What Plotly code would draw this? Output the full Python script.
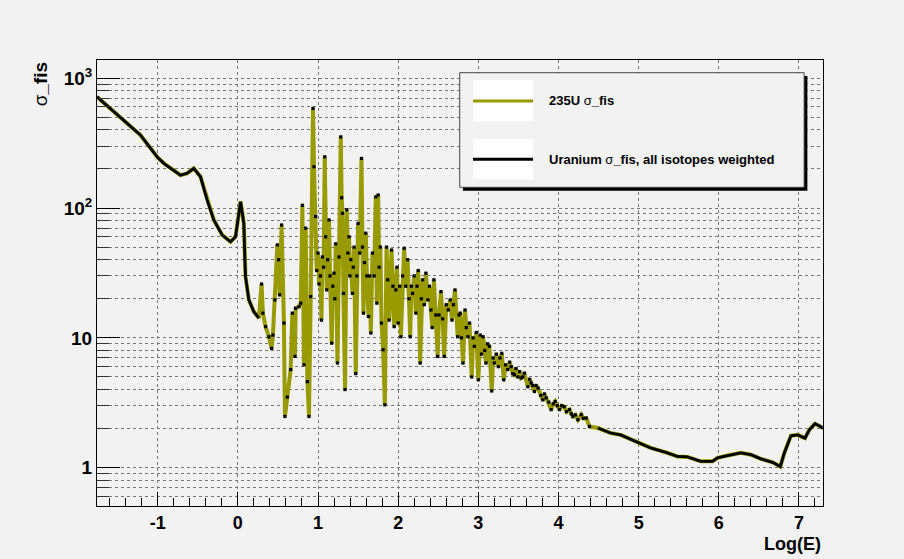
import plotly.graph_objects as go

# ---------------- data ----------------
log_e = [-1.757, -1.6, -1.466, -1.35, -1.216, -1.1, -1.0, -0.92, -0.841, -0.716, -0.633, -0.55,
         -0.466, -0.383, -0.30, -0.195, -0.091, -0.029, 0.034, 0.075, 0.0875, 0.096, 0.1375,
         0.2, 0.2625,
         0.296, 0.3125, 0.346, 0.3875, 0.421, 0.4375, 0.4625, 0.4925, 0.509, 0.521,
         0.546, 0.575, 0.5875, 0.6175, 0.659, 0.68, 0.7125, 0.721, 0.7625, 0.785,
         0.805, 0.825, 0.846, 0.8675, 0.8875, 0.909, 0.9375, 0.95, 0.971, 0.984,
         1.0, 1.0125, 1.03, 1.0425, 1.055, 1.07, 1.084, 1.095, 1.109, 1.12,
         1.1375, 1.15, 1.171, 1.185, 1.2, 1.21, 1.221, 1.2425, 1.2625, 1.284,
         1.295, 1.305, 1.3175, 1.3375, 1.359, 1.373, 1.3875, 1.398, 1.409, 1.43,
         1.44, 1.45, 1.471, 1.485, 1.5, 1.52, 1.5425, 1.555, 1.5675, 1.58,
         1.596, 1.61, 1.63, 1.645, 1.659, 1.68, 1.70, 1.721, 1.734, 1.75,
         1.7625, 1.778, 1.7925, 1.8125, 1.834, 1.855, 1.87, 1.8875, 1.9175, 1.935,
         1.95, 1.971, 1.985, 2.0, 2.02, 2.034, 2.055, 2.075, 2.095, 2.1175,
         2.135, 2.15, 2.165, 2.18, 2.2, 2.221, 2.235, 2.25, 2.275, 2.29,
         2.305, 2.325, 2.346, 2.371, 2.39, 2.409, 2.425, 2.446, 2.47, 2.4925,
         2.51, 2.534, 2.555, 2.575, 2.60, 2.625, 2.65, 2.671, 2.69, 2.709,
         2.7425, 2.76, 2.775, 2.79, 2.809, 2.834, 2.85, 2.871, 2.89, 2.9175,
         2.935, 2.95, 2.975, 3.0, 3.025, 3.04, 3.059, 3.08, 3.096, 3.115,
         3.1375, 3.1675, 3.185, 3.2, 3.225, 3.25, 3.27, 3.2925, 3.3175, 3.34,
         3.3675, 3.39, 3.409, 3.43, 3.45, 3.47, 3.4925, 3.515, 3.534, 3.555,
         3.575, 3.6175, 3.64, 3.659, 3.68, 3.7, 3.72, 3.746, 3.78, 3.805,
         3.825, 3.846, 3.88, 3.909, 3.935, 3.959, 3.985, 4.0125, 4.04, 4.071,
         4.1, 4.1375, 4.16, 4.18, 4.21, 4.2425, 4.284, 4.31, 4.346, 4.3875,
         4.4925, 4.65, 4.775, 4.984, 5.15, 5.359, 5.484, 5.609, 5.775, 5.921,
         5.984, 6.109, 6.275, 6.4, 6.525, 6.671, 6.7675, 6.8175, 6.9, 6.984,
         7.075, 7.13, 7.2, 7.2675, 7.3]

sigma_u235 = [718, 590, 504, 430, 365, 295, 245, 220, 202, 179, 185, 202,
              174, 115, 81, 62, 55, 60, 112, 76, 40, 29.6, 19.6,
              15.9, 14.2,
              26, 15.5, 12.2, 10.2, 8.3, 10.5, 19.6, 52, 40, 21.4,
              74, 13, 2.48, 3.5, 5.7, 15.5, 7.2, 16.9, 17.4, 18.5,
              105, 6.2, 70, 4.6, 2.48, 20.8, 585, 208, 86, 33,
              45, 26, 30, 13.7, 42, 35, 248, 60, 23.4, 40,
              81, 30, 9.1, 25, 31.5, 20, 53, 6.4, 42, 353,
              120, 91, 22, 4.0, 97, 45, 60, 30, 40, 22,
              35, 50, 5.3, 30, 76, 45, 241, 50, 15.5, 38,
              64, 30, 14.6, 30, 10.9, 45, 30, 122, 18.5, 126,
              35, 50, 13, 8.1, 3.05, 50, 28, 13.7, 47.5, 25,
              12.2, 23.4, 35, 13, 25, 10.2, 30, 49, 25, 40,
              20, 10.2, 25, 22, 30, 15.5, 25, 33, 6.4, 20,
              28, 18, 31.5, 19.6, 25, 16.4, 12, 28, 15, 7.2,
              15, 22.7, 14, 7.2, 18, 16.4, 19.6, 13.7, 18, 23.4,
              10.2, 15, 15.5, 10, 6.4, 16.4, 12, 10.2, 13, 5.0,
              10, 8.6, 11, 4.75, 10.5, 7.5, 10.2, 8, 6.4, 9,
              8.6, 3.9, 7, 6.4, 7.5, 6.0, 7, 7.6, 4.75, 6.2,
              5.7, 6.5, 6.0, 5.3, 5.2, 5.8, 5.0, 5.5, 4.9, 5.0,
              5.35, 4.2, 4.8, 4.5, 4.3, 3.86, 4.3, 4.1, 3.6, 3.33,
              3.7, 3.45, 3.2, 2.8, 3.1, 3.24, 3.0, 2.8, 3.0, 2.95,
              2.7, 2.8, 2.6, 2.48, 2.55, 2.34, 2.56, 2.4, 2.41, 2.08,
              2.02, 1.85, 1.79, 1.57, 1.42, 1.30, 1.22, 1.21, 1.12, 1.12,
              1.19, 1.24, 1.30, 1.26, 1.17, 1.10, 1.02, 1.30, 1.76, 1.79,
              1.69, 1.96, 2.18, 2.08, 2.01]

sigma_weighted = list(sigma_u235)

x_ticks = [-1, 0, 1, 2, 3, 4, 5, 6, 7]
y_ticks = [1, 10, 100, 1000]
y_ticktext = ["1", "10", "10<sup>2</sup>", "10<sup>3</sup>"]
y_minor = [0.6, 0.7, 0.8, 0.9, 2, 3, 4, 5, 6, 7, 8, 9,
           20, 30, 40, 50, 60, 70, 80, 90, 200, 300, 400, 500, 600, 700, 800, 900]

legend_labels = ["235U σ_fis", "Uranium σ_fis, all isotopes weighted"]

OLIVE = "#999900"
BG = "#f2f2f2"
FONT = "Liberation Sans, Arial, Helvetica, sans-serif"

# weighted curve: smooth parts drawn as a line, resonance region as points
res_lo, res_hi = 0.27, 4.39
gx, gy, pt_x, pt_y = [], [], [], []
for xv, yv in zip(log_e, sigma_weighted):
    if xv <= res_lo or xv >= res_hi:
        if gx and gx[-1] is not None and gx[-1] <= res_lo and xv >= res_hi:
            gx.append(None); gy.append(None)
        gx.append(xv); gy.append(yv)
    else:
        pt_x.append(xv); pt_y.append(yv)

fig = go.Figure()
fig.add_trace(go.Scatter(x=log_e, y=sigma_u235, mode="lines",
                         line=dict(color=OLIVE, width=4), name=legend_labels[0],
                         showlegend=False))
fig.add_trace(go.Scatter(x=gx, y=gy, mode="lines",
                         line=dict(color="black", width=2.8), name=legend_labels[1],
                         showlegend=False, connectgaps=False))
fig.add_trace(go.Scatter(x=pt_x, y=pt_y, mode="markers",
                         marker=dict(color="black", size=3.2, symbol="square"),
                         showlegend=False))

# ---------------- legend drawn ROOT-style ----------------
L, R, T, B = 0.4996, 0.974, 0.9715, 0.7146
dx, dy = 0.0045, 0.0075
shapes = [
    dict(type="rect", xref="paper", yref="paper", x0=L + dx, x1=R + dx, y0=B - dy, y1=T - dy,
         fillcolor="black", line=dict(width=0), layer="above"),
    dict(type="rect", xref="paper", yref="paper", x0=L, x1=R, y0=B, y1=T,
         fillcolor=BG, line=dict(color="#444", width=1), layer="above"),
    dict(type="rect", xref="paper", yref="paper", x0=0.5179, x1=0.6006, y0=0.8632, y1=0.9552,
         fillcolor="white", line=dict(width=0), layer="above"),
    dict(type="rect", xref="paper", yref="paper", x0=0.5179, x1=0.6006, y0=0.7325, y1=0.8229,
         fillcolor="white", line=dict(width=0), layer="above"),
    dict(type="line", xref="paper", yref="paper", x0=0.5179, x1=0.6006, y0=0.9081, y1=0.9081,
         line=dict(color=OLIVE, width=3), layer="above"),
    dict(type="line", xref="paper", yref="paper", x0=0.5179, x1=0.6006, y0=0.7774, y1=0.7774,
         line=dict(color="black", width=3), layer="above"),
]
annotations = [
    dict(xref="paper", yref="paper", x=0.6198, y=0.9081, xanchor="left", yanchor="middle",
         text="<b>235U</b> σ<b>_fis</b>", showarrow=False,
         font=dict(family=FONT, size=13, color="black")),
    dict(xref="paper", yref="paper", x=0.6198, y=0.7774, xanchor="left", yanchor="middle",
         text="<b>Uranium</b> σ<b>_fis, all isotopes weighted</b>", showarrow=False,
         font=dict(family=FONT, size=13, color="black")),
    dict(xref="paper", yref="paper", x=1.0, y=-0.085, xanchor="right", yanchor="middle",
         text="<b>Log(E)</b>", showarrow=False, font=dict(family=FONT, size=18, color="black")),
    dict(xref="paper", yref="paper", x=-0.078, y=1.0, xanchor="center", yanchor="top",
         text="σ<b>_fis</b>", textangle=-90, showarrow=False,
         font=dict(family=FONT, size=19, color="black")),
]

fig.update_layout(
    width=904, height=559,
    margin=dict(l=97, r=81, t=60, b=53),
    paper_bgcolor=BG, plot_bgcolor=BG,
    font=dict(family=FONT, color="black"),
    shapes=shapes, annotations=annotations,
    showlegend=False,
)
fig.update_xaxes(
    range=[-1.757, 7.30], tickmode="array", tickvals=x_ticks,
    ticktext=[str(v) for v in x_ticks],
    ticks="inside", ticklen=14, tickwidth=1, tickcolor="black",
    showline=True, linecolor="black", linewidth=1, mirror=True,
    showgrid=True, gridcolor="#777", griddash="dot", gridwidth=1,
    zeroline=False,
    tickfont=dict(family=FONT, size=18, color="black", weight="bold"),
    minor=dict(dtick=0.2, tick0=0, ticks="inside", ticklen=8, tickcolor="black", showgrid=False),
)
fig.update_yaxes(
    type="log", range=[-0.295, 3.14], tickmode="array", tickvals=y_ticks, ticktext=y_ticktext,
    ticks="inside", ticklen=23, tickwidth=1, tickcolor="black",
    showline=True, linecolor="black", linewidth=1, mirror=True,
    showgrid=True, gridcolor="#777", griddash="dot", gridwidth=1,
    zeroline=False,
    tickfont=dict(family=FONT, size=19, color="black", weight="bold"),
    minor=dict(tickmode="array", tickvals=y_minor, ticks="inside", ticklen=12,
               tickcolor="#333", showgrid=True, gridcolor="#777", griddash="dot", gridwidth=1),
)

fig.write_html("out.html")
